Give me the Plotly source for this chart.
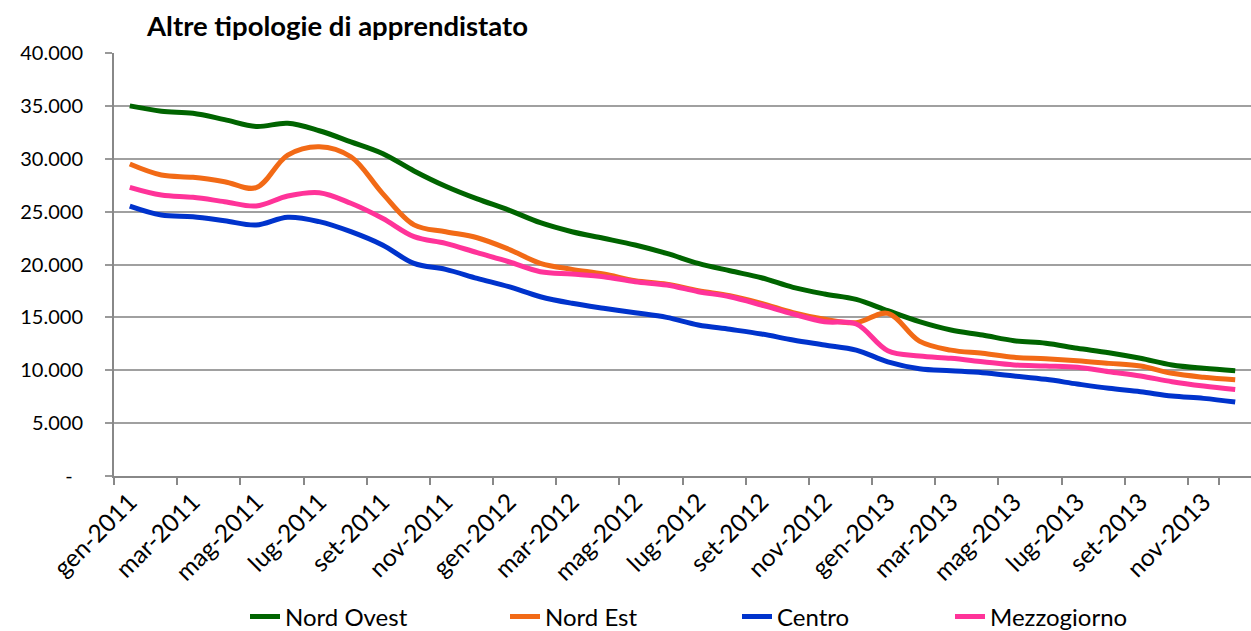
import plotly.graph_objects as go

months = ["gen", "feb", "mar", "apr", "mag", "giu", "lug", "ago", "set", "ott", "nov", "dic"]
categories = [f"{m}-{y}" for y in (2011, 2012, 2013) for m in months]

nord_ovest = [35000, 34500, 34300, 33700, 33050, 33350, 32650, 31600, 30500, 28850, 27400, 26200,
              25150, 23950, 23100, 22480, 21840, 21050, 20110, 19410, 18750, 17840, 17210, 16700,
              15630, 14590, 13800, 13330, 12790, 12550, 12080, 11660, 11130, 10500, 10180, 9950]
nord_est = [29500, 28460, 28240, 27830, 27260, 30350, 31140, 30190, 26730, 23750, 23100, 22530,
            21440, 20110, 19540, 19100, 18470, 18130, 17520, 17050, 16330, 15440, 14820, 14500,
            15380, 12750, 11900, 11600, 11220, 11090, 10900, 10650, 10400, 9710, 9340, 9100]
centro = [25530, 24680, 24520, 24140, 23730, 24460, 24050, 23100, 21840, 20100, 19540, 18690,
          17900, 16950, 16330, 15860, 15440, 15000, 14280, 13870, 13430, 12860, 12390, 11910,
          10800, 10150, 9960, 9770, 9460, 9140, 8700, 8290, 7970, 7560, 7340, 7000]
mezzogiorno = [27300, 26570, 26350, 25940, 25530, 26480, 26790, 25790, 24370, 22630, 22000, 21120,
               20260, 19320, 19100, 18850, 18370, 18060, 17430, 16950, 16170, 15320, 14590, 14370,
               11850, 11350, 11130, 10810, 10500, 10400, 10280, 9860, 9460, 8920, 8510, 8180]

series = [
    ("Nord Ovest", nord_ovest, "#006400"),
    ("Nord Est", nord_est, "#F26A16"),
    ("Centro", centro, "#0033CC"),
    ("Mezzogiorno", mezzogiorno, "#FF3399"),
]

y_ticks = [0, 5000, 10000, 15000, 20000, 25000, 30000, 35000, 40000]
y_labels = ["-\u00a0\u00a0", "5.000", "10.000", "15.000", "20.000", "25.000", "30.000", "35.000", "40.000"]
x_tickvals = categories[0::2]

FONT = "Lato, 'Open Sans', sans-serif"

legend_names = ["legend", "legend2", "legend3", "legend4"]
legend_x = [245, 505, 737, 950]

fig = go.Figure()
for (name, vals, color), lg in zip(series, legend_names):
    fig.add_trace(go.Scatter(
        x=categories, y=vals, name=name, mode="lines",
        line=dict(color=color, width=5, shape="spline", smoothing=1.0),
        legend=lg,
    ))

legend_common = dict(orientation="h", yref="container", xref="container",
                     y=1 - 617 / 631, yanchor="middle", xanchor="left",
                     font=dict(family=FONT, size=24, color="#000000"),
                     bgcolor="rgba(0,0,0,0)", borderwidth=0)
layout_legends = {}
for lg, px in zip(legend_names, legend_x):
    layout_legends[lg] = dict(legend_common, x=px / 1251)

fig.update_layout(
    width=1251, height=631,
    margin=dict(l=114, r=0, t=53, b=155),
    paper_bgcolor="white", plot_bgcolor="white",
    font=dict(family=FONT, size=20, color="#000000"),
    title=dict(text="<b>Altre tipologie di apprendistato</b>",
               font=dict(family=FONT, size=27.5, color="#000000"),
               x=147 / 1251, xanchor="left", xref="container",
               y=1 - 26 / 631, yanchor="middle", yref="container"),
    showlegend=True,
    **layout_legends,
)

fig.update_xaxes(
    type="category", categoryorder="array", categoryarray=categories,
    range=[-0.5, 35.5], automargin=False,
    tickmode="array", tickvals=x_tickvals, ticktext=x_tickvals,
    tickson="boundaries", ticks="outside", ticklen=7, tickwidth=1.5, tickcolor="#888888",
    tickangle=-45, tickfont=dict(family=FONT, size=24.5),
    showline=True, linecolor="#888888", linewidth=2,
    showgrid=False, zeroline=False,
)
fig.update_yaxes(
    range=[0, 40000], automargin=False,
    tickmode="array", tickvals=y_ticks, ticktext=y_labels,
    ticks="outside", ticklen=7, tickwidth=1.5, tickcolor="#999999",
    ticklabelstandoff=18,
    tickfont=dict(family=FONT, size=20),
    showline=True, linecolor="#888888", linewidth=2,
    showgrid=True, gridcolor="#A0A0A0", gridwidth=1.5,
    zeroline=False,
)

fig.write_html("out.html", config={"displayModeBar": False},
               post_script="document.body.style.margin='0';document.body.style.overflow='hidden';")
